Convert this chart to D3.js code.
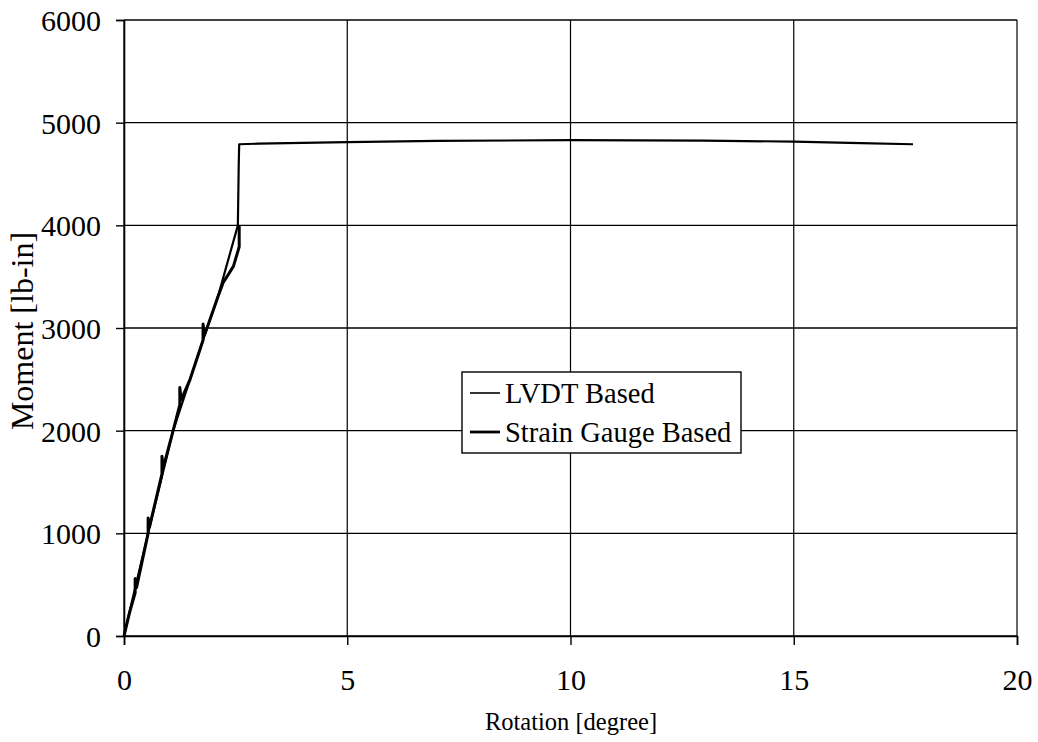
<!DOCTYPE html>
<html><head><meta charset="utf-8">
<script src="https://cdn.jsdelivr.net/npm/d3@7/dist/d3.min.js"></script>
<style>body{margin:0;background:#fff}svg{display:block}text{font-family:"Liberation Serif","Times New Roman",serif;fill:#000}</style>
</head><body><svg id="c" width="1038" height="742"></svg>
<script>
const xTicks = [0, 5, 10, 15, 20];
const yTicks = [0, 1000, 2000, 3000, 4000, 5000, 6000];
const seriesNames = ["LVDT Based", "Strain Gauge Based"];
const lvdtRot = [0, 0.05, 0.54, 1.10, 1.86, 2.10, 2.55, 2.56, 2.57, 2.58, 3, 5, 7, 10, 13, 15, 16.5, 17.67];
const lvdtMom = [0, 100, 1000, 2000, 3000, 3300, 4000, 4300, 4600, 4790, 4795, 4810, 4822, 4830, 4826, 4815, 4800, 4790];
const sgRot = [0, 0.12, 0.25, 0.25, 0.28, 0.54, 0.54, 0.57, 0.85, 0.85, 0.88, 1.10, 1.25, 1.25, 1.28, 1.48, 1.77, 1.77, 1.80, 1.86, 2.10, 2.22, 2.45, 2.58, 2.58];
const sgMom = [0, 220, 420, 560, 470, 1000, 1150, 1060, 1580, 1750, 1640, 2000, 2250, 2420, 2300, 2500, 2880, 3040, 2930, 3000, 3300, 3440, 3600, 3790, 4000];

const svg = d3.select("#c");
const x = d3.scaleLinear().domain([0, 20]).range([124, 1017]);
const y = d3.scaleLinear().domain([0, 6000]).range([636, 20]);

// grid
svg.append("g").selectAll("line").data(yTicks).join("line")
  .attr("x1", 124).attr("x2", 1017).attr("y1", d => y(d)).attr("y2", d => y(d))
  .attr("stroke", "#000").attr("stroke-width", 1.4);
svg.append("g").selectAll("line").data(xTicks).join("line")
  .attr("y1", 20).attr("y2", 636).attr("x1", d => x(d)).attr("x2", d => x(d))
  .attr("stroke", "#000").attr("stroke-width", 1.2);

// axes
const xAxis = svg.append("g").attr("transform", "translate(0,636)")
  .call(d3.axisBottom(x).tickValues(xTicks).tickSize(9).tickFormat(d3.format("d")));
const yAxis = svg.append("g").attr("transform", "translate(124,0)")
  .call(d3.axisLeft(y).tickValues(yTicks).tickSize(8).tickFormat(d3.format("d")));
[xAxis, yAxis].forEach(a => {
  a.attr("font-family", null).attr("font-size", null);
  a.select(".domain").attr("stroke", "#000").attr("stroke-width", 1.6);
  a.selectAll(".tick line").attr("stroke", "#000").attr("stroke-width", 1.4);
  a.selectAll("text").style("font-family", "'Liberation Serif', serif").style("font-size", "30px").attr("fill", "#000");
});
xAxis.selectAll("text").attr("y", 54).attr("dy", null);
yAxis.selectAll("text").attr("x", -23).attr("dy", "0.35em");

// titles
svg.append("text").attr("x", 571).attr("y", 730).attr("text-anchor", "middle").style("font-size", "24.5px").text("Rotation [degree]");
svg.append("text").attr("transform", "translate(33,331) rotate(-90)").attr("text-anchor", "middle").style("font-size", "32px").text("Moment [lb-in]");

// lines
const line = d3.line().x(d => x(d[0])).y(d => y(d[1]));
const lv = lvdtRot.map((r, i) => [r, lvdtMom[i]]);
const sg = sgRot.map((r, i) => [r, sgMom[i]]);
svg.append("path").attr("d", line(sg)).attr("fill", "none").attr("stroke", "#000").attr("stroke-width", 3).attr("stroke-linejoin", "round");
svg.append("path").attr("d", line(lv)).attr("fill", "none").attr("stroke", "#000").attr("stroke-width", 2.2).attr("stroke-linejoin", "round");

// legend
const lg = svg.append("g");
lg.append("rect").attr("x", 462).attr("y", 372).attr("width", 279).attr("height", 81).attr("fill", "#fff").attr("stroke", "#000").attr("stroke-width", 1.4);
seriesNames.forEach((n, i) => {
  const yy = 393 + i * 39;
  lg.append("line").attr("x1", 470).attr("x2", 500).attr("y1", yy).attr("y2", yy).attr("stroke", "#000").attr("stroke-width", i ? 2.8 : 1.6);
  lg.append("text").attr("x", 505).attr("y", yy + 10).style("font-size", "28.5px").text(n);
});
</script></body></html>
